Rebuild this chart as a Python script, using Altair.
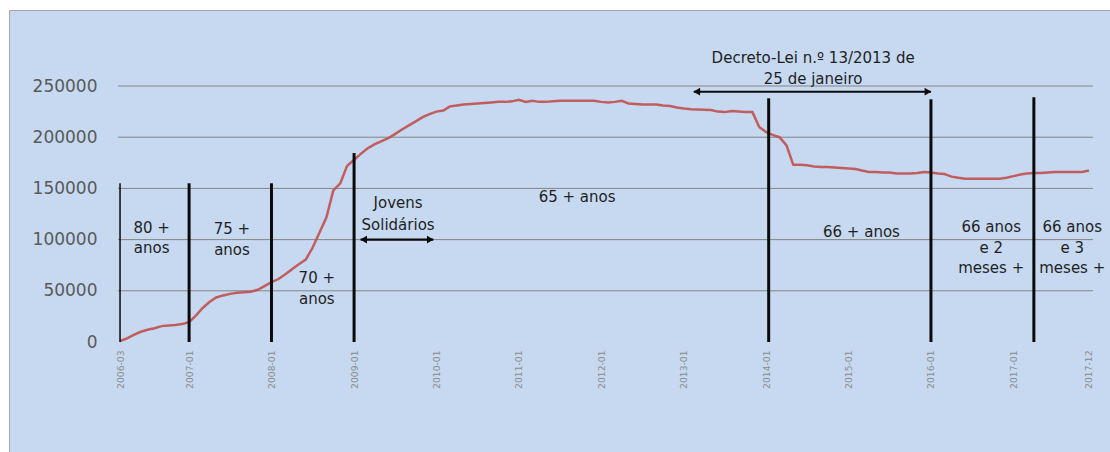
import altair as alt
import pandas as pd

# Monthly beneficiaries, March 2006 to December 2017
months = pd.date_range("2006-03-01", "2017-12-01", freq="MS").strftime("%Y-%m-%dT00:00:00").tolist()
beneficiaries = [
    1000, 3500, 7000, 10000, 12000, 13500, 15500, 16000, 16500, 17500,          # 2006
    19500, 26000, 33000, 39000, 43500, 45500, 47000, 48000, 48500, 49000, 51000, 54500,  # 2007
    58500, 61500, 66000, 71000, 76000, 80500, 92000, 107000, 122000, 148000, 155000, 172000,  # 2008
    178000, 184000, 189000, 193000, 196000, 199000, 203000, 207500, 211500, 215500, 219500, 222500,  # 2009
    225000, 226000, 230000, 231000, 232000, 232500, 233000, 233500, 234000, 234500, 234500, 235000,  # 2010
    236500, 234500, 235500, 234500, 234500, 235000, 235500, 235500, 235500, 235500, 235500, 235500,  # 2011
    234500, 234000, 234500, 235500, 233000, 232500, 232000, 232000, 232000, 231000, 230500, 229000,  # 2012
    228000, 227200, 227000, 226800, 226500, 225000, 224500, 225500, 225000, 224500, 224500, 210000,  # 2013
    205000, 202000, 200000, 192000, 173000, 173000, 172500, 171500, 171000, 171000, 170500, 170000,  # 2014
    169500, 169000, 167500, 166000, 166000, 165500, 165500, 164500, 164500, 164500, 165000, 166000,  # 2015
    165500, 164500, 164000, 161500, 160500, 159500, 159500, 159500, 159500, 159500, 159500, 160500,  # 2016
    162000, 163500, 164500, 165000, 165000, 165500, 166000, 166000, 166000, 166000, 166000, 167500,  # 2017
]

tick_months = ["2006-03", "2007-01", "2008-01", "2009-01", "2010-01", "2011-01", "2012-01",
               "2013-01", "2014-01", "2015-01", "2016-01", "2017-01", "2017-12"]
y_ticks = [0, 50000, 100000, 150000, 200000, 250000]
grid_levels = [50000, 100000, 150000, 200000, 250000]

# Vertical markers for each change of the age threshold
marker_dates = ["2006-03-01", "2007-01-01", "2008-01-01", "2009-01-01", "2014-01-12", "2016-01-01", "2017-04-01"]
marker_tops = [155000, 155000, 155000, 184500, 238000, 237000, 239000]
marker_widths = [1.5, 3, 3, 3, 3, 3, 3]

# Double-headed arrows
arrow_starts = ["2009-01-30", "2013-02-14"]
arrow_ends = ["2009-12-18", "2016-01-01"]
arrow_levels = [100000, 244400]

# Period labels
label_texts = ["80 +", "anos", "75 +", "anos", "70 +", "anos", "Jovens", "Solidários",
               "65 + anos", "66 + anos", "66 anos", "e 2", "meses +", "66 anos", "e 3", "meses +",
               "Decreto-Lei n.º 13/2013 de", "25 de janeiro"]
label_dates = ["2006-07-19", "2006-07-19", "2007-07-10", "2007-07-10", "2008-07-20", "2008-07-20",
               "2009-07-15", "2009-07-15", "2011-09-16", "2015-02-27", "2016-09-24", "2016-09-24",
               "2016-09-24", "2017-09-18", "2017-09-18", "2017-09-18", "2014-07-28", "2014-07-28"]
label_levels = [111600, 91500, 110100, 89800, 62200, 42000, 135700, 114300, 141900, 107100,
                112000, 91500, 72000, 112000, 91500, 72000, 277400, 256800]

series = pd.DataFrame({"date": months, "value": beneficiaries})
markers = pd.DataFrame({"date": marker_dates, "base": 0, "top": marker_tops, "w": marker_widths})
arrows = pd.DataFrame({"start": arrow_starts, "end": arrow_ends, "level": arrow_levels})
labels = pd.DataFrame({"date": label_dates, "level": label_levels, "label": label_texts})
grid = pd.DataFrame({"level": grid_levels})


def dt(s):
    return alt.DateTime(year=int(s[:4]), month=int(s[5:7]), date=1)


xscale = alt.Scale(domain=[alt.DateTime(year=2006, month=2, date=20),
                           alt.DateTime(year=2017, month=12, date=19)])
yscale = alt.Scale(domain=[0, 250000], nice=False, zero=False)

# The same axis definitions are shared by every layer so that they merge;
# zindex 1 keeps the labels above the coloured panel
x_axis = alt.Axis(values=[dt(m) for m in tick_months], format="%Y-%m", labelAngle=270,
                  labelFont="DejaVu Sans", labelFontSize=9.2, labelColor="#8c8c8c",
                  ticks=False, domain=False, grid=False, labelPadding=8,
                  labelOverlap=False, labelFlush=False, zindex=1)
y_axis = alt.Axis(values=y_ticks, format="d", labelFont="DejaVu Sans", labelFontSize=17,
                  labelColor="#595959", ticks=False, domain=False, grid=False,
                  labelPadding=21, zindex=1)


def X(field):
    return alt.X(field, scale=xscale, axis=x_axis, title=None)


def Y(field):
    return alt.Y(field, scale=yscale, axis=y_axis, title=None)


PLOT_W, PLOT_H = 975, 256

panel = alt.Chart(pd.DataFrame({"k": [0]})).mark_rect(
    fill="#c6d9f1", stroke="#a6a6a6", strokeWidth=1
).encode(x=alt.value(-108.5), x2=alt.value(1010), y=alt.value(-75.5), y2=alt.value(400))

gridlines = alt.Chart(grid).mark_rule(color="#858585", strokeWidth=1).encode(
    y=Y("level:Q"), x=alt.value(0), x2=alt.value(PLOT_W),
)

line = alt.Chart(series).mark_line(color="#c0504d", strokeWidth=2.5, opacity=0.9).encode(
    x=X("date:T"), y=Y("value:Q"),
)

verticals = alt.Chart(markers).mark_rule(color="#0a0a0a").encode(
    x=X("date:T"), y=Y("base:Q"), y2="top:Q",
    strokeWidth=alt.StrokeWidth("w:Q", scale=None, legend=None),
)

shafts = alt.Chart(arrows).mark_rule(color="#0a0a0a", strokeWidth=2.2).encode(
    x=X("start:T"), x2="end:T", y=Y("level:Q"),
)
left_heads = alt.Chart(arrows).mark_point(
    shape="triangle-left", filled=True, color="#0a0a0a", size=60, opacity=1, xOffset=3
).encode(x=X("start:T"), y=Y("level:Q"))
right_heads = alt.Chart(arrows).mark_point(
    shape="triangle-right", filled=True, color="#0a0a0a", size=60, opacity=1, xOffset=-3
).encode(x=X("end:T"), y=Y("level:Q"))

texts = alt.Chart(labels).mark_text(
    font="DejaVu Sans", fontSize=15, color="#1f1f1f", align="center", baseline="middle"
).encode(x=X("date:T"), y=Y("level:Q"), text="label:N")

chart = alt.layer(
    panel, gridlines, line, verticals, shafts, left_heads, right_heads, texts
).properties(
    width=PLOT_W, height=PLOT_H,
    autosize=alt.AutoSizeParams(type="none"),
    padding={"left": 118, "top": 86, "right": 17, "bottom": 110},
    background="white",
).configure_view(strokeWidth=0)

chart.save("out.html", embed_options={"renderer": "svg", "actions": False})
